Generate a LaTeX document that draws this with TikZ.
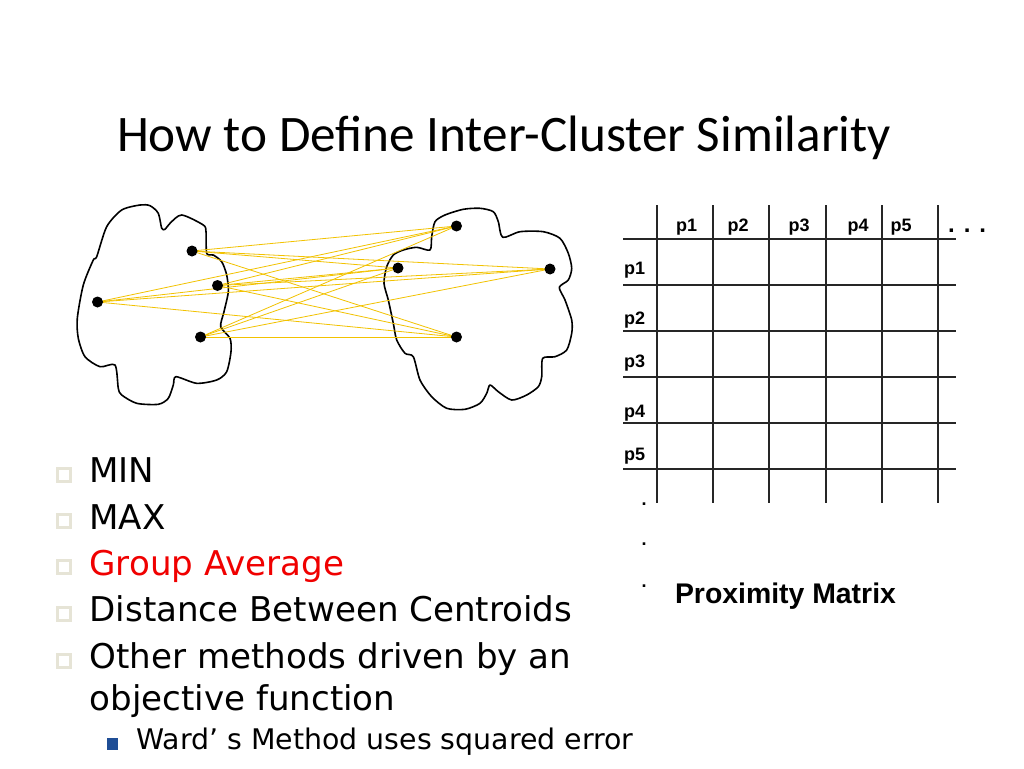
\documentclass[tikz,border=0pt]{standalone}
\usepackage{fontspec}
\setmainfont{DejaVu Sans}
\newfontfamily\titlefont{Carlito}
\newfontfamily\bodyfont{DejaVu Sans}
\newfontfamily\arialfont{Liberation Sans}
\definecolor{linkyellow}{HTML}{F2C200}
\definecolor{bulletbeige}{HTML}{E6E4D6}
\definecolor{wardblue}{HTML}{1F4E96}
\definecolor{avgred}{HTML}{F00000}
\begin{document}
\begin{tikzpicture}[x=1pt,y=-1pt,
  txt/.style={inner sep=0pt,outer sep=0pt,anchor=base west},
  bul/.style={txt,font=\bodyfont\fontsize{34.1}{40}\selectfont},
  sub/.style={txt,font=\bodyfont\fontsize{28.4}{34}\selectfont},
  lab/.style={inner sep=0pt,outer sep=0pt,font=\arialfont\bfseries\fontsize{18}{21}\selectfont},
  dotnode/.style={circle,fill=black,inner sep=0pt,minimum size=11pt},
  link/.style={linkyellow,line width=0.8pt},
  blob/.style={draw=black,line width=1.6pt,line join=round},
  grid/.style={draw=black!85,line width=1.3pt},
  sqbullet/.style={draw=bulletbeige,line width=3pt,fill=white,minimum size=13pt,inner sep=0pt},
  bluebullet/.style={fill=wardblue,minimum size=11.5pt,inner sep=0pt}]
\useasboundingbox (0,0) rectangle (1024,768);
\fill[white] (0,0) rectangle (1024,768);

% title
\node[txt,font=\titlefont\fontsize{51.2}{60}\selectfont] (title) at (117,151.7) {How to Define Inter-Cluster Similarity};

% clusters
\draw[blob] plot[smooth cycle,tension=0.45] coordinates {
(121.7,210) (140,205) (150,205.7) (158.3,213.3) (161.7,228.3) (165,229.3) (170,223.3) (181.7,215) (203.3,225) (206,231.7) (206.7,253.3) (213.3,255) (221.7,261.7) (226.7,275) (228.3,291.7) (224,311.7) (220.7,326.7) (230,338.3) (231,351.7) (226.7,371.7) (216.7,380) (196.7,383.3) (176,376.7) (173.3,385) (168.3,398.3) (158.3,404.3) (136.7,403.3) (121.7,395) (118.3,388.3) (115,365) (100,366.7) (85,356.7) (78.3,338.3) (77.3,318.3) (83.3,285) (93.3,260) (96.7,256.7) (106.7,226.7)};
\draw[blob] plot[smooth cycle,tension=0.45] coordinates {
(435,221.7) (445,215) (463.3,209.3) (480,208.3) (493.3,211.7) (498.3,221.7) (502.7,237.3) (520,231.7) (543.3,231.7) (560,238.3) (568.3,253.3) (571.7,268.3) (568.3,280) (559.3,287.3) (565,300) (571.7,320) (571.7,333.3) (566.7,350) (555,356.7) (542.7,358.3) (541.7,376.7) (538.3,386.7) (526.7,395) (511.7,400) (498.3,391.7) (490,385) (486.7,393.3) (480,403.3) (465,409.3) (446.7,408.3) (431.7,396.7) (420,380) (413.3,356.7) (405,353.3) (396.7,340) (393.3,323.3) (388.3,300) (384,283.3) (386.7,266.7) (393.3,255) (403.3,250) (416.7,247.3) (430,250) (431.7,236.7)};

% points
\coordinate (l1) at (192,251);
\coordinate (l2) at (217.5,285.5);
\coordinate (l3) at (97.5,302);
\coordinate (l4) at (200.5,337);
\coordinate (r1) at (456.5,226);
\coordinate (r2) at (398,268);
\coordinate (r3) at (550,269);
\coordinate (r4) at (456.5,337);
\foreach \a in {l1,l2,l3,l4}{
  \foreach \b in {r1,r2,r3,r4}{
    \draw[link] (\a) -- (\b);
  }
}
\foreach \p in {l1,l2,l3,l4,r1,r2,r3,r4}{
  \node[dotnode] (dot-\p) at (\p) {};
}

% proximity matrix grid
\foreach \x in {657,713,769,826,882,938}{
  \draw[grid] (\x,205) -- (\x,503);
}
\foreach \y in {239,285,331,377,423,469}{
  \draw[grid] (623,\y) -- (956,\y);
}
\node[lab,anchor=base] (c1) at (686.7,231) {p1};
\node[lab,anchor=base] (c2) at (738,231) {p2};
\node[lab,anchor=base] (c3) at (799,231) {p3};
\node[lab,anchor=base] (c4) at (858,231) {p4};
\node[lab,anchor=base] (c5) at (901,231) {p5};
\node[inner sep=0pt,anchor=base west,font=\arialfont\bfseries\fontsize{24}{28}\selectfont] (cdots) at (948,232) {. . .};
\node[lab,anchor=base west] (rw1) at (624,274) {p1};
\node[lab,anchor=base west] (rw2) at (624,324.5) {p2};
\node[lab,anchor=base west] (rw3) at (624,367.5) {p3};
\node[lab,anchor=base west] (rw4) at (624,417.5) {p4};
\node[lab,anchor=base west] (rw5) at (624,460) {p5};
\node[lab,anchor=base] (vd1) at (644,505) {.};
\node[lab,anchor=base] (vd2) at (644,545) {.};
\node[lab,anchor=base] (vd3) at (644,587) {.};
\node[txt,font=\arialfont\bfseries\fontsize{28.4}{34}\selectfont] (pm) at (675,603.5) {Proximity Matrix};

% bullets
\node[sqbullet] (b1) at (64.3,474.5) {};
\node[sqbullet] (b2) at (64.3,521) {};
\node[sqbullet] (b3) at (64.3,567) {};
\node[sqbullet] (b4) at (64.3,614) {};
\node[sqbullet] (b5) at (64.3,661) {};
\node[bul] (t1) at (89.5,482.5) {MIN};
\node[bul] (t2) at (89.5,529) {MAX};
\node[bul,text=avgred] (t3) at (89.5,575) {Group Average};
\node[bul] (t4) at (89.5,621.7) {Distance Between Centroids};
\node[bul] (t5) at (89.5,668.5) {Other methods driven by an};
\node[bul] (t6) at (89.5,710) {objective function};
\node[bluebullet] (b6) at (112.5,744) {};
\node[sub] (t7) at (136.5,749.5) {Ward’ s Method uses squared error};
\end{tikzpicture}
\end{document}
